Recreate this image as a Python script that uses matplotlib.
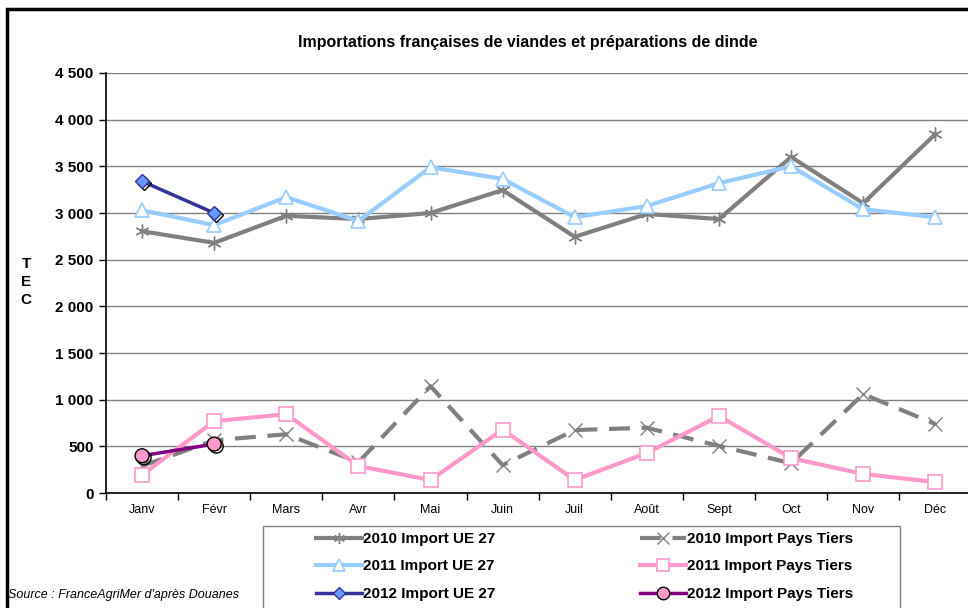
import numpy as np
import matplotlib.pyplot as plt
import matplotlib.patheffects as pe
from matplotlib.patches import Rectangle
from matplotlib.lines import Line2D
from matplotlib.ticker import FuncFormatter

plt.rcParams['font.family'] = ['Liberation Sans', 'DejaVu Sans']

# data (TEC)
months = ['Janv', 'Févr', 'Mars', 'Avr', 'Mai', 'Juin', 'Juil', 'Août', 'Sept', 'Oct', 'Nov', 'Déc']
ue_2010 = [2805, 2680, 2970, 2935, 3000, 3245, 2745, 2990, 2935, 3600, 3105, 3845]
pt_2010 = [290, 565, 630, 330, 1145, 300, 675, 700, 505, 320, 1060, 740]
ue_2011 = [3030, 2870, 3170, 2915, 3490, 3365, 2955, 3075, 3320, 3500, 3040, 2955]
pt_2011 = [195, 770, 845, 290, 140, 680, 140, 430, 825, 375, 205, 118]
ue_2012 = [3340, 3000]
pt_2012 = [400, 525]

x = np.arange(len(months))

fig = plt.figure(figsize=(9.68, 6.08), dpi=100)
ax = fig.add_axes([0.1095, 0.189, 0.894, 0.691])

# frame around the whole chart
fig.patches.append(Rectangle((7 / 968, -0.1), 1.2, 1 - 9 / 608 + 0.1, transform=fig.transFigure,
                             fill=False, edgecolor='black', linewidth=2.5, zorder=0))

gray = '#808080'
shadow = [pe.SimpleLineShadow(offset=(1.5, -1.5), shadow_color='black', alpha=1), pe.Normal()]

l1, = ax.plot(x, ue_2010, color=gray, lw=3, marker=(6, 2, 0), ms=10, mec=gray, mew=1,
              label='2010 Import UE 27')
l2, = ax.plot(x, ue_2011, color='#99CCFF', lw=3, marker='^', ms=10, mfc='white', mec='#99CCFF', mew=1.2,
              label='2011 Import UE 27')
l4, = ax.plot(x, pt_2010, color=gray, lw=3, ls=(0, (5, 2.8)), marker='x', ms=10, mec=gray, mew=1,
              label='2010 Import Pays Tiers')
l5, = ax.plot(x, pt_2011, color='#FF99CC', lw=3, marker='s', ms=10, mfc='white', mec='#FF99CC', mew=1.2,
              label='2011 Import Pays Tiers')

# 2012 : line, then markers with a shadow
ax.plot(x[:2], ue_2012, color='#333399', lw=2.5)
ax.plot(x[:2], ue_2012, ls='none', marker='D', ms=7, mfc='#6699FF', mec='#333399', mew=1,
        path_effects=shadow)
ax.plot(x[:2], pt_2012, color='#800080', lw=2.5)
ax.plot(x[:2], pt_2012, ls='none', marker='o', ms=10, mfc='#FF99CC', mec='black', mew=1,
        path_effects=shadow)

# legend handles (slightly smaller markers, as in the original)
h1 = Line2D([], [], color=gray, lw=3, marker=(6, 2, 0), ms=8, mec=gray, mew=1, label='2010 Import UE 27')
h2 = Line2D([], [], color='#99CCFF', lw=3, marker='^', ms=8, mfc='white', mec='#99CCFF', mew=1.2,
            label='2011 Import UE 27')
h3 = Line2D([], [], color='#333399', lw=2.5, marker='D', ms=6, mfc='#6699FF', mec='#333399', mew=1,
            label='2012 Import UE 27')
h4 = Line2D([], [], color=gray, lw=3, ls=(0, (5, 2.8)), marker='x', ms=8, mec=gray, mew=1,
            label='2010 Import Pays Tiers')
h5 = Line2D([], [], color='#FF99CC', lw=3, marker='s', ms=9, mfc='white', mec='#FF99CC', mew=1.2,
            label='2011 Import Pays Tiers')
h6 = Line2D([], [], color='#800080', lw=2.5, marker='o', ms=9, mfc='#FF99CC', mec='black', mew=1,
            label='2012 Import Pays Tiers')

ax.set_xlim(-0.5, 11.5)
ax.set_ylim(0, 4500)
ax.set_yticks(np.arange(0, 4501, 500))
ax.yaxis.set_major_formatter(FuncFormatter(lambda v, p: f'{int(v):,}'.replace(',', ' ')))
ax.grid(axis='y', color=gray, lw=1)
ax.set_axisbelow(True)
for lab in ax.get_yticklabels():
    lab.set_fontweight('bold')
ax.tick_params(axis='y', labelsize=11, length=5, width=1, direction='out', pad=4)

ax.set_xticks(x)
ax.set_xticklabels(months)
ax.set_xticks(np.arange(-0.5, 12, 1), minor=True)
ax.tick_params(axis='x', which='major', length=0, labelsize=9, pad=8)
ax.tick_params(axis='x', which='minor', length=5, width=1, direction='out')

for s in ['top', 'right']:
    ax.spines[s].set_visible(False)
ax.spines['left'].set_linewidth(1.2)
ax.spines['bottom'].set_linewidth(1.2)

fig.text(0.545, 1 - 43 / 608, 'Importations françaises de viandes et préparations de dinde',
         ha='center', va='center', fontsize=11.5, fontweight='bold')
fig.text(26 / 968, 1 - 282 / 608, 'T\nE\nC', ha='center', va='center', fontsize=11,
         fontweight='bold', linespacing=1.4)
fig.text(8 / 968, 1 - 595 / 608, "Source : FranceAgriMer d'après Douanes", ha='left', va='center',
         fontsize=9, style='italic')

# legend box, then two frameless columns inside it
fig.patches.append(Rectangle((263 / 968, -0.05), (900 - 263) / 968, 0.05 + 1 - 526 / 608,
                             transform=fig.transFigure, fill=False, edgecolor=gray, lw=1, zorder=5))
legkw = dict(loc='upper left', frameon=False, prop={'size': 11, 'weight': 'bold'}, borderpad=0,
             borderaxespad=0, handlelength=3.0, handletextpad=0.05, labelspacing=0.88)
leg1 = fig.legend(handles=[h1, h2, h3], bbox_to_anchor=(316 / 968, 1 - 532 / 608), **legkw)
leg2 = fig.legend(handles=[h4, h5, h6], bbox_to_anchor=(640 / 968, 1 - 532 / 608), **legkw)

fig.savefig('out.png', dpi=100)
